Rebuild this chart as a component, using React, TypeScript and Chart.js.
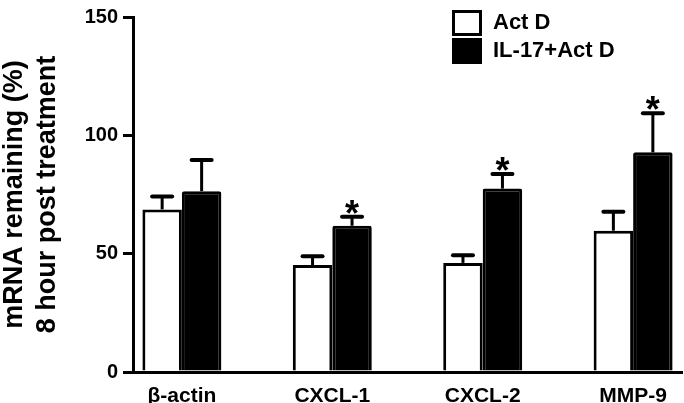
import React, { useEffect, useRef } from 'react';
import { Chart, registerables } from 'chart.js';

Chart.register(...registerables);

const categories = ['β-actin', 'CXCL-1', 'CXCL-2', 'MMP-9'];
const seriesLabels = ['Act D', 'IL-17+Act D'];
const actD = [68.7, 45.2, 46.1, 59.7];
const actDErr = [5.5, 3.7, 3.2, 8.0];
const il17ActD = [76.4, 61.8, 77.5, 92.8];
const il17ActDErr = [13.2, 3.8, 6.2, 16.5];
const il17Significant = [false, true, true, true];
const actDSignificant = [false, false, false, false];
const yTicks = [0, 50, 100, 150];
const yTitle = ['mRNA remaining (%)', '8 hour post treatment'];

const FONT = '"Liberation Sans", Arial, Helvetica, sans-serif';

const annotatePlugin = {
  id: 'annotate',
  afterDatasetsDraw(chart: any) {
    const ctx = chart.ctx;
    const yScale = chart.scales.y;
    chart.data.datasets.forEach((ds: any, di: number) => {
      const meta = chart.getDatasetMeta(di);
      meta.data.forEach((bar: any, i: number) => {
        const v = ds.data[i].y;
        const err = ds.errors[i];
        const base = yScale.getPixelForValue(v);
        const top = yScale.getPixelForValue(v + err);
        ctx.save();
        ctx.strokeStyle = '#000';
        ctx.lineWidth = 3;
        ctx.beginPath();
        ctx.moveTo(bar.x, base);
        ctx.lineTo(bar.x, top);
        ctx.stroke();
        ctx.lineWidth = 4;
        ctx.lineCap = 'round';
        ctx.beginPath();
        ctx.moveTo(bar.x - 10, top);
        ctx.lineTo(bar.x + 10, top);
        ctx.stroke();
        if (ds.significant[i]) {
          ctx.fillStyle = '#000';
          ctx.font = `bold 36px ${FONT}`;
          ctx.textAlign = 'center';
          ctx.textBaseline = 'alphabetic';
          ctx.fillText('*', bar.x, top + 9);
        }
        ctx.restore();
      });
    });
  },
  afterDraw(chart: any) {
    const ctx = chart.ctx;
    const lx = 452;
    const rows = [10, 38];
    ctx.save();
    chart.data.datasets.forEach((ds: any, di: number) => {
      const y0 = rows[di];
      ctx.lineWidth = 3;
      ctx.strokeStyle = '#000';
      ctx.fillStyle = ds.backgroundColor;
      ctx.fillRect(lx + 1.5, y0 + 1.5, 27, 23);
      ctx.strokeRect(lx + 1.5, y0 + 1.5, 27, 23);
      ctx.fillStyle = '#000';
      ctx.font = `bold 22px ${FONT}`;
      ctx.textAlign = 'left';
      ctx.textBaseline = 'middle';
      ctx.fillText(ds.label, 493, y0 + 13);
    });
    ctx.restore();
  },
};

export default function App() {
  const ref = useRef<HTMLCanvasElement | null>(null);

  useEffect(() => {
    if (!ref.current) return;
    Chart.defaults.font.family = FONT;
    const chart = new Chart(ref.current, {
      type: 'bar',
      data: {
        datasets: [
          {
            label: seriesLabels[0],
            data: actD.map((v, i) => ({ x: i, y: v })),
            errors: actDErr,
            significant: actDSignificant,
            backgroundColor: '#ffffff',
            borderColor: '#000000',
            borderWidth: 3,
          } as any,
          {
            label: seriesLabels[1],
            data: il17ActD.map((v, i) => ({ x: i, y: v })),
            errors: il17ActDErr,
            significant: il17Significant,
            backgroundColor: '#000000',
            borderColor: '#000000',
            borderWidth: 3,
            borderRadius: 2,
          } as any,
        ],
      },
      options: {
        animation: false,
        responsive: false,
        devicePixelRatio: 1,
        categoryPercentage: 0.525,
        barPercentage: 1,
        layout: { padding: { top: 11, right: 2, left: 0, bottom: 0 } },
        plugins: {
          legend: { display: false },
          tooltip: { enabled: false },
        },
        scales: {
          x: {
            type: 'linear',
            offset: false,
            min: -0.325,
            max: categories.length - 1 + 0.325,
            afterBuildTicks: (s: any) => {
              s.ticks = categories.map((_, i) => ({ value: i }));
            },
            afterFit: (s: any) => {
              s.height = 31;
            },
            grid: { display: false, offset: false },
            border: { display: true, color: '#000', width: 3 },
            ticks: {
              autoSkip: false,
              maxRotation: 0,
              padding: 4,
              color: '#000',
              font: { size: 21, weight: 'bold', family: FONT },
              callback: (v: any) => categories[v] ?? '',
            },
          },
          y: {
            min: 0,
            max: 150,
            afterBuildTicks: (s: any) => {
              s.ticks = yTicks.map((v) => ({ value: v }));
            },
            afterFit: (s: any) => {
              s.width = 133;
            },
            grid: {
              display: true,
              drawOnChartArea: false,
              drawTicks: true,
              tickLength: 10,
              lineWidth: 3,
              color: '#000',
            },
            border: { display: true, color: '#000', width: 3 },
            ticks: {
              padding: 5,
              color: '#000',
              font: { size: 20, weight: 'bold', family: FONT },
            },
            title: {
              display: true,
              text: yTitle,
              color: '#000',
              font: { size: 27, weight: 'bold', family: FONT, lineHeight: 1.22 },
              padding: { top: -2, bottom: 0 },
            },
          },
        },
      },
      plugins: [annotatePlugin],
    } as any);
    return () => chart.destroy();
  }, []);

  return (
    <div style={{ position: 'fixed', left: 0, top: 0, width: 684, height: 403, background: '#fff' }}>
      <canvas ref={ref} width={684} height={403} style={{ display: 'block' }} />
    </div>
  );
}
